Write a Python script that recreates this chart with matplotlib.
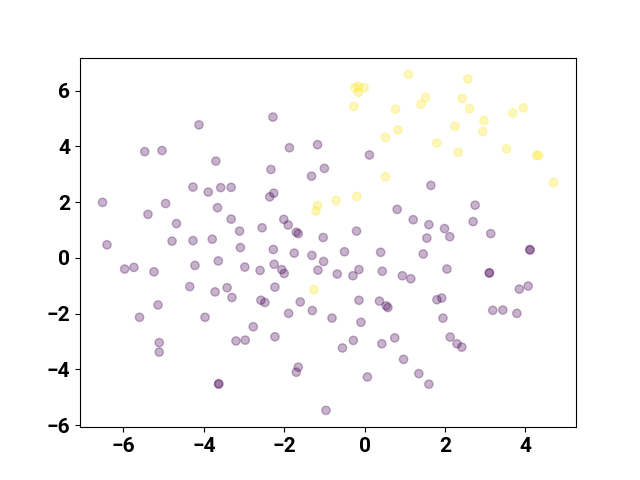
import matplotlib.pyplot as plt

# purple group (label 0)
x0 = [-4.12, -5.47, -5.04, -3.70, -4.27, -3.89, -3.58, -3.32, -6.52, -4.95,
      -3.66, -5.39, -3.32, -4.68, -3.11, -6.41, -4.79, -4.27, -3.79, -3.09,
      -5.97, -5.74, -5.24, -4.22, -3.64, -2.98, -4.35, -3.72, -3.42, -3.30,
      -5.14, -5.60, -3.97, -5.11, -5.11, -3.20, -2.97, -3.63, -3.63, -2.28,
      -1.87, -1.17, 0.12, -2.33, -1.00, -1.32, -2.26, -2.36, 0.81, -2.01,
      -1.90, -1.70, -1.65, -2.55, -1.03, -0.20, -2.27, -1.75, -1.31, -0.50,
      0.40, -2.60, -2.25, -2.06, -2.00, -1.02, -1.16, -0.68, -0.29, -0.14,
      0.44, 0.94, 1.15, -2.23, -2.58, -2.48, -1.60, -1.89, -1.30, -0.81,
      -0.14, 0.37, 0.54, 0.58, -0.09, -2.77, -2.23, -0.55, -0.28, 0.43,
      0.75, 0.97, -1.65, -1.70, 0.07, -0.96, 1.65, 2.75, 1.21, 1.60,
      1.99, 2.70, 1.55, 2.12, 3.14, 1.46, 4.11, 4.12, 2.05, 3.11,
      3.10, 3.85, 4.07, 1.80, 1.92, 3.19, 3.44, 3.79, 1.95, 2.13,
      2.30, 2.42, 1.35, 1.60]
y0 = [4.77, 3.81, 3.85, 3.47, 2.54, 2.36, 2.52, 2.53, 1.99, 1.95,
      1.80, 1.56, 1.39, 1.23, 0.96, 0.47, 0.60, 0.62, 0.67, 0.37,
      -0.40, -0.34, -0.50, -0.27, -0.11, -0.33, -1.03, -1.22, -1.07, -1.42,
      -1.69, -2.13, -2.13, -3.04, -3.38, -2.98, -2.95, -4.51, -4.53, 5.05,
      3.95, 4.06, 3.69, 3.17, 3.21, 2.93, 2.32, 2.19, 1.74, 1.38,
      1.18, 0.92, 0.87, 1.08, 0.73, 0.96, 0.30, 0.17, 0.09, 0.22,
      0.20, -0.45, -0.23, -0.42, -0.56, -0.13, -0.44, -0.58, -0.64, -0.42,
      -0.48, -0.64, -0.75, -1.05, -1.52, -1.60, -1.58, -1.99, -1.89, -2.16,
      -1.52, -1.55, -1.72, -1.78, -2.31, -2.47, -2.83, -3.23, -2.96, -3.08,
      -2.87, -3.64, -3.92, -4.10, -4.27, -5.47, 2.60, 1.89, 1.37, 1.19,
      1.05, 1.30, 0.71, 0.76, 0.87, 0.14, 0.30, 0.28, -0.40, -0.53,
      -0.55, -1.12, -1.01, -1.50, -1.44, -1.88, -1.87, -1.99, -2.16, -2.84,
      -3.08, -3.20, -4.15, -4.53]

# yellow group (label 1)
x1 = [-0.15, -0.24, -0.01, -0.15, 1.09, -0.27, 0.77, 0.83, 0.52, 0.52,
      -0.19, -0.71, -1.17, -1.21, 2.57, 1.52, 1.40, 2.43, 2.61, 2.97,
      2.94, 2.25, 3.69, 3.95, 1.80, 2.33, 3.53, 4.28, 4.33, 4.70, -1.26]
y1 = [6.15, 6.11, 6.10, 5.93, 6.58, 5.43, 5.33, 4.59, 4.32, 2.91,
      2.20, 2.06, 1.88, 1.68, 6.41, 5.75, 5.51, 5.72, 5.35, 4.92,
      4.53, 4.72, 5.20, 5.38, 4.12, 3.79, 3.91, 3.68, 3.67, 2.70, -1.14]

x = x0 + x1
y = y0 + y1
labels = [0] * len(x0) + [1] * len(x1)

plt.rcParams['font.family'] = ['Roboto', 'DejaVu Sans']
plt.rcParams['font.weight'] = 'bold'

fig, ax = plt.subplots(figsize=(6.4, 4.8), dpi=100)
ax.scatter(x, y, c=labels, cmap='viridis', alpha=0.3)
ax.tick_params(labelsize=15)
for lab in ax.get_xticklabels() + ax.get_yticklabels():
    lab.set_fontweight('bold')

fig.savefig('out.png')
